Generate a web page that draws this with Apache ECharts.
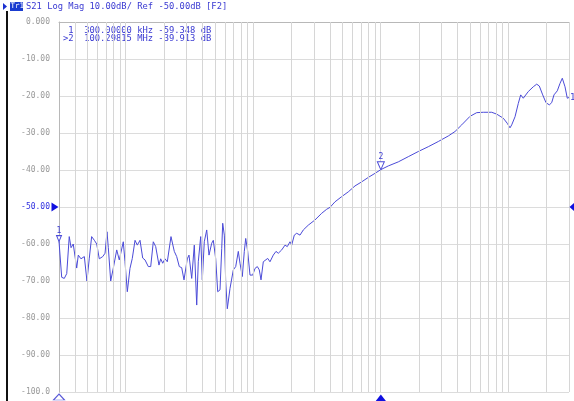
<!DOCTYPE html>
<html>
<head>
<meta charset="utf-8">
<script src="https://cdn.jsdelivr.net/npm/echarts@6/dist/echarts.min.js"></script>
<style>
  html, body { margin: 0; padding: 0; background: #fff; }
  #chart { width: 574px; height: 401px; }
</style>
</head>
<body>
<div id="chart"></div>
<script>
// S21 trace, frequency in MHz, magnitude in dB
var freqMHz = [
  0.300, 0.315, 0.330, 0.345, 0.361, 0.373, 0.388, 0.413, 0.425, 0.446,
  0.474, 0.497, 0.518, 0.541, 0.568, 0.593, 0.621, 0.661, 0.689, 0.714,
  0.731, 0.763, 0.800, 0.851, 0.891, 0.958, 0.988, 1.030, 1.081, 1.127,
  1.184, 1.234, 1.296, 1.360, 1.418, 1.505, 1.572, 1.647, 1.720, 1.825,
  1.882, 1.952, 2.034, 2.121, 2.267, 2.407, 2.513, 2.634, 2.751, 2.868,
  3.044, 3.138, 3.296, 3.454, 3.607, 3.712, 3.877, 3.991, 4.137, 4.321,
  4.505, 4.729, 4.868, 5.084, 5.271, 5.494, 5.667, 5.769, 5.939, 6.091,
  6.268, 6.582, 6.987, 7.297, 7.647, 7.884, 8.218, 8.520, 8.739, 9.060,
  9.443, 9.915, 10.34, 10.78, 11.17, 11.52, 12.01, 12.38, 13.00, 13.55,
  14.38, 15.10, 15.74, 16.74, 17.77, 18.52, 19.45, 20.05, 21.02, 21.95,
  23.30, 24.73, 27.07, 30.54, 34.47, 37.74, 40.06, 43.83, 49.47, 55.74,
  62.91, 71.01, 80.01, 90.27, 100.3, 114.8, 137.5, 164.7, 197.3, 236.4,
  283.2, 339.2, 382.9, 432.1, 501.9, 566.6, 638.2, 742.8, 813.1, 915.6,
  984.5, 1034, 1066, 1132, 1201, 1254, 1314, 1438, 1574, 1674,
  1755, 1866, 1980, 2102, 2195, 2288, 2428, 2550, 2658, 2791,
  2909, 3000
];
var s21dB = [
  -59.3, -69.0, -69.3, -68.0, -58.0, -61.0, -60.0, -66.5, -63.0, -64.0,
  -63.4, -70.0, -64.0, -58.0, -59.0, -60.0, -64.0, -63.4, -62.5, -56.7,
  -61.0, -70.0, -66.5, -61.6, -64.3, -59.4, -64.8, -72.9, -66.6, -63.9,
  -59.0, -60.3, -59.0, -63.8, -64.3, -66.1, -66.1, -59.4, -60.7, -65.7,
  -64.0, -65.2, -64.0, -64.8, -58.0, -62.0, -63.4, -66.1, -66.4, -69.7,
  -64.0, -63.0, -69.3, -60.3, -76.5, -64.8, -58.0, -69.7, -59.4, -56.2,
  -63.0, -59.8, -59.0, -64.0, -72.9, -72.4, -61.2, -54.4, -57.6, -70.2,
  -77.5, -72.0, -67.0, -66.1, -62.0, -65.2, -68.8, -62.0, -58.5, -62.0,
  -68.4, -68.4, -66.6, -66.1, -67.0, -69.7, -64.8, -64.8, -63.9, -64.8,
  -63.0, -62.0, -62.5, -61.6, -60.3, -60.7, -59.4, -60.3, -57.6, -57.1,
  -57.6, -56.2, -54.9, -53.5, -51.7, -50.6, -50.1, -48.6, -47.2, -45.9,
  -44.3, -43.2, -42.0, -40.9, -39.9, -38.9, -37.8, -36.4, -35.0, -33.7,
  -32.3, -30.8, -29.6, -27.8, -25.5, -24.5, -24.4, -24.4, -24.9, -26.0,
  -27.4, -28.6, -27.8, -25.6, -22.0, -19.7, -20.6, -18.8, -17.5, -16.8,
  -17.3, -19.7, -21.8, -22.4, -21.8, -19.7, -18.6, -16.6, -15.2, -17.5,
  -20.6, -20.4
];

// markers
var markerFreq = [0.3, 100.29815];
var markerDB = [-59.348, -39.913];

var startMHz = 0.3, stopMHz = 3000;
var refLevel = -50;

// log grid lines: 1..9 of every decade inside the sweep, plus the stop edge
var gridFreqs = [];
for (var d = -1; d <= 3; d++) {
  for (var m = 1; m <= 9; m++) {
    var f = m * Math.pow(10, d);
    if (f > startMHz * 1.001 && f < stopMHz * 0.999) gridFreqs.push(+f.toPrecision(3));
  }
}
gridFreqs.push(stopMHz);

var blue = '#3a3ad2';
var trace = '#4b4bd8';
var mono = '"DejaVu Sans Mono", "Liberation Mono", monospace';

var chart = echarts.init(document.getElementById('chart'));

var option = {
  backgroundColor: '#fff',
  animation: false,
  grid: { left: 59, right: 5, top: 22, bottom: 9 },
  xAxis: {
    type: 'log',
    logBase: 10,
    min: startMHz,
    max: stopMHz,
    axisLine: { show: true, lineStyle: { color: '#b8b8b8' } },
    axisTick: { show: false },
    axisLabel: { show: false },
    splitLine: { show: false }
  },
  yAxis: {
    type: 'value',
    min: -100,
    max: 0,
    interval: 10,
    axisLine: { show: true, lineStyle: { color: '#b8b8b8' } },
    axisTick: { show: false },
    splitLine: { show: true, lineStyle: { color: '#dcdcdc', width: 1 } },
    axisLabel: {
      margin: 9,
      fontFamily: mono,
      fontSize: 8,
      color: function (v) { return +v === refLevel ? '#3030e0' : '#9a9a9a'; },
      formatter: function (v) {
        if (v === 0) return '0.000';
        if (v === -100) return '-100.0';
        return v.toFixed(2);
      }
    }
  },
  graphic: [
    { type: 'rect', shape: { x: 6, y: 11, width: 2, height: 390 }, style: { fill: '#111' } },
    { type: 'polygon', shape: { points: [[3, 3], [7, 6.5], [3, 10]] }, style: { fill: '#1a2fd0' } },
    { type: 'rect', shape: { x: 10, y: 2, width: 13, height: 9 }, style: { fill: '#1a3cd0' } },
    { type: 'text', x: 10.5, y: 2.5, style: { text: 'Tr1', fill: '#fff', font: '7.5px ' + mono } },
    { type: 'text', x: 26, y: 2, style: { text: 'S21 Log Mag 10.00dB/ Ref -50.00dB [F2]', fill: blue, font: '8.8px ' + mono } },
    { type: 'text', x: 63, y: 26, style: { text: ' 1  300.00000 kHz -59.348 dB', fill: blue, font: '8.8px ' + mono } },
    { type: 'text', x: 63, y: 34, style: { text: '>2  100.29815 MHz -39.913 dB', fill: blue, font: '8.8px ' + mono } }
  ],
  series: [
    {
      type: 'line',
      data: freqMHz.map(function (f, i) { return [f, s21dB[i]]; }),
      showSymbol: false,
      symbol: 'none',
      lineStyle: { color: trace, width: 1 },
      endLabel: { show: true, formatter: '1', color: blue, fontFamily: mono, fontSize: 9, distance: 1 },
      markLine: {
        silent: true,
        symbol: ['none', 'none'],
        label: { show: false },
        lineStyle: { color: '#d6d6d6', width: 1, type: 'solid' },
        data: gridFreqs.map(function (f) { return { xAxis: f }; })
      },
      markPoint: {
        silent: true,
        data: [
          // reference level arrows
          { coord: [startMHz, refLevel], symbol: 'triangle', symbolRotate: -90, symbolSize: [9, 7], symbolOffset: [-4, 0],
            itemStyle: { color: '#1010e0' }, label: { show: false } },
          { coord: [stopMHz, refLevel], symbol: 'triangle', symbolRotate: 90, symbolSize: [9, 5], symbolOffset: [3, 0],
            itemStyle: { color: '#1010e0' }, label: { show: false } },
          // stimulus indicators below the axis
          { coord: [markerFreq[0], -100], symbol: 'triangle', symbolSize: [11, 6], symbolOffset: [0, 5],
            itemStyle: { color: '#fff', borderColor: '#5a5ad8', borderWidth: 1 }, label: { show: false } },
          { coord: [markerFreq[1], -100], symbol: 'triangle', symbolSize: [11, 7], symbolOffset: [0, 6],
            itemStyle: { color: '#1010e0' }, label: { show: false } },
          // trace markers
          { coord: [markerFreq[0], markerDB[0]], symbol: 'triangle', symbolRotate: 180, symbolSize: [5, 6], symbolOffset: [0, -3],
            itemStyle: { color: '#fff', borderColor: trace, borderWidth: 1 },
            label: { show: true, position: 'top', distance: 0, formatter: '1', color: blue, fontFamily: mono, fontSize: 8 } },
          { coord: [markerFreq[1], markerDB[1]], symbol: 'triangle', symbolRotate: 180, symbolSize: [7, 8], symbolOffset: [0, -4],
            itemStyle: { color: '#fff', borderColor: trace, borderWidth: 1 },
            label: { show: true, position: 'top', distance: 0, formatter: '2', color: blue, fontFamily: mono, fontSize: 8 } }
        ]
      }
    }
  ]
};

chart.setOption(option);
</script>
</body>
</html>
